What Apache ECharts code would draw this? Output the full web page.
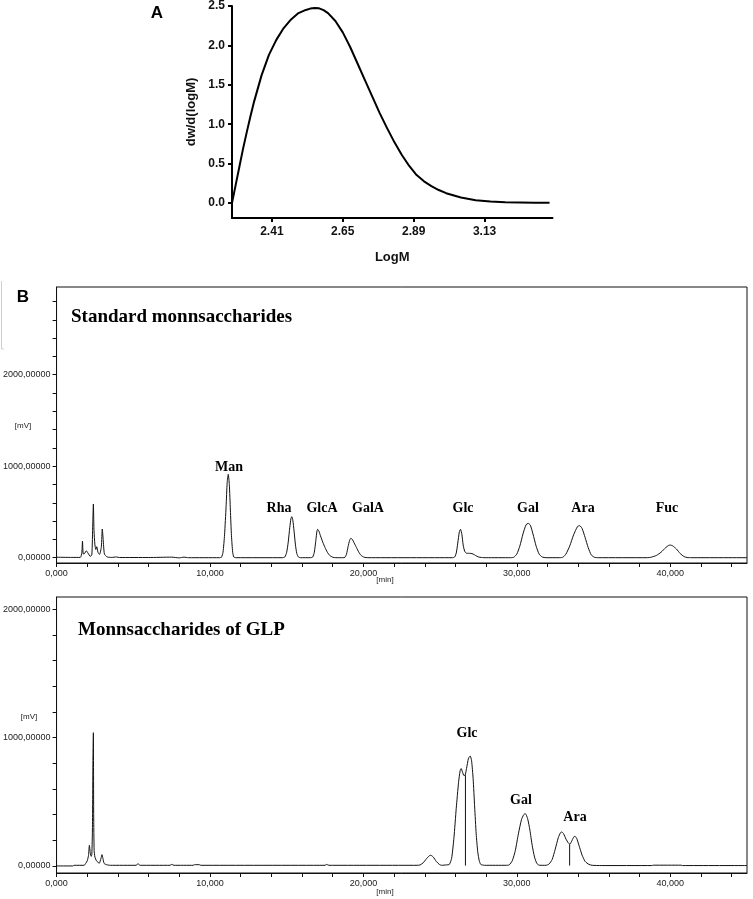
<!DOCTYPE html>
<html>
<head>
<meta charset="utf-8">
<script src="https://cdn.jsdelivr.net/npm/echarts@6/dist/echarts.min.js"></script>
<style>
html,body{margin:0;padding:0;background:#fff;}
#chart{width:753px;height:899px;}
</style>
</head>
<body>
<div id="chart"></div>
<script>
// ---------- Panel A: molecular weight distribution ----------
const mwLogM = [2.275, 2.2875, 2.300, 2.3125, 2.325, 2.3375, 2.350, 2.375, 2.400, 2.425, 2.450, 2.475, 2.500, 2.525, 2.540, 2.555, 2.570, 2.585, 2.600, 2.625, 2.650, 2.675, 2.700, 2.725, 2.750, 2.775, 2.800, 2.825, 2.850, 2.875, 2.900, 2.925, 2.950, 2.975, 3.000, 3.050, 3.100, 3.150, 3.200, 3.250, 3.300, 3.350];
const mwDw   = [0.00, 0.23, 0.46, 0.69, 0.90, 1.10, 1.29, 1.62, 1.88, 2.07, 2.22, 2.33, 2.41, 2.45, 2.467, 2.475, 2.47, 2.448, 2.41, 2.31, 2.165, 1.98, 1.77, 1.56, 1.35, 1.14, 0.95, 0.77, 0.61, 0.47, 0.355, 0.275, 0.215, 0.165, 0.125, 0.07, 0.035, 0.018, 0.010, 0.007, 0.005, 0.005];
const aTicksX = [2.41, 2.65, 2.89, 3.13];
const aTicksY = [0.0, 0.5, 1.0, 1.5, 2.0, 2.5];

// ---------- Panel B: HPLC chromatograms (time [min], signal [mV]) ----------
const stdTime = [0,1.0,1.55,1.65,1.69,1.74,1.82,1.94,2.05,2.2,2.3,2.36,2.40,2.44,2.5,2.56,2.62,2.7,2.8,2.92,2.98,3.04,3.12,3.3,3.6,3.9,4.1,6.0,7.5,8.0,8.3,8.6,10.6,
  10.75,10.85,10.95,11.05,11.12,11.19,11.26,11.33,11.40,11.48,11.55,11.7,
  14.7,14.88,15.0,15.1,15.2,15.28,15.33,15.40,15.48,15.57,15.66,15.76,15.9,
  16.55,16.7,16.8,16.9,16.97,17.02,17.1,17.2,17.35,17.5,17.65,17.8,18.0,18.2,
  18.65,18.8,18.9,19.0,19.1,19.18,19.28,19.4,19.55,19.7,19.85,20.05,20.3,
  25.8,25.95,26.05,26.15,26.25,26.33,26.42,26.5,26.6,26.7,26.85,27.0,27.15,27.3,27.5,27.7,28.0,
  29.6,29.8,30.0,30.2,30.4,30.6,30.74,30.88,31.05,31.25,31.45,31.65,31.9,
  32.8,33.0,33.2,33.45,33.7,33.95,34.09,34.25,34.45,34.65,34.85,35.05,35.3,
  38.5,38.75,39.1,39.4,39.7,39.9,40.0,40.15,40.4,40.65,40.9,41.1,41.4,45.0];
const stdSignal = [5,3,3,60,182,40,45,75,50,15,30,370,587,300,140,90,120,60,35,120,313,200,40,8,3,8,2,2,6,-2,6,0,0,
  5,60,250,560,820,911,800,520,240,60,8,0,
  0,8,60,170,330,430,448,410,290,140,45,8,0,
  0,8,60,190,290,310,290,240,170,110,60,25,5,0,
  0,5,40,120,190,211,200,160,110,60,25,5,0,
  0,8,50,160,280,310,250,140,70,50,48,47,40,25,8,2,0,
  0,5,40,130,260,360,375,355,260,130,40,8,0,
  0,5,40,130,250,340,350,320,220,110,30,5,0,
  0,5,25,60,110,135,138,130,95,45,12,2,0,0];

const glpTime = [0,1.05,1.15,1.8,1.9,2.0,2.08,2.14,2.2,2.26,2.3,2.34,2.37,2.40,2.42,2.45,2.5,2.6,2.7,2.78,2.9,2.96,3.02,3.1,3.25,3.5,5.2,5.3,5.45,7.4,7.5,7.65,8.9,9.0,9.3,9.4,17.5,17.6,17.75,23.5,
  23.7,23.9,24.1,24.3,24.39,24.55,24.75,24.95,25.1,25.4,
  25.6,25.75,25.9,26.05,26.2,26.3,26.37,26.45,26.55,26.63,26.72,26.85,26.96,27.05,27.15,27.25,27.35,27.45,27.55,27.65,27.9,
  29.3,29.5,29.7,29.9,30.1,30.3,30.45,30.55,30.7,30.85,31.0,31.15,31.3,31.45,31.7,
  31.9,32.1,32.3,32.5,32.7,32.85,32.93,33.05,33.2,33.35,33.45,33.6,33.72,33.79,33.9,34.05,34.25,34.45,34.7,34.91,35.5,38.8,38.9,40.7,40.8,45.0];
const glpSignal = [0,0,5,5,20,40,80,161,100,75,90,300,811,1039,400,120,70,40,30,20,60,88,60,20,10,5,5,18,5,5,12,5,5,10,10,5,5,12,5,5,
  8,25,55,80,83,70,35,12,5,8,
  12,60,220,450,650,740,759,735,705,707,760,840,857,820,680,460,250,110,40,12,5,
  5,8,40,120,250,360,400,408,370,280,160,70,20,6,5,
  5,15,50,130,220,260,265,250,210,180,169,200,228,231,215,160,85,35,12,5,3,3,6,6,3,3];

// integration drop lines in the GLP trace
const glpDropTime = [26.65, 33.44];
const glpDropTop  = [707, 169];

const bTicksX = [0,2,4,6,8,10,12,14,16,18,20,22,24,26,28,30,32,34,36,38,40,42,44];
const bLabelsX = [0,10,20,30,40];
const b1TicksY = [0,200,400,600,800,1000,1200,1400,1600,1800,2000,2200,2400,2600,2800];
const b2TicksY = [0,200,400,600,800,1000,1200,1400,1600,1800,2000];
const bLabelsY = [0,1000,2000];

const stdPeakNames = ['Man','Rha','GlcA','GalA','Glc','Gal','Ara','Fuc'];
const glpPeakNames = ['Glc','Gal','Ara'];

// ---------- build ----------
const zip = (a,b) => a.map((v,i)=>[v,b[i]]);
const chart = echarts.init(document.getElementById('chart'), null, {renderer:'canvas'});

const fmtX = v => v.toFixed(3).replace('.',',');
const fmtY = v => v.toFixed(5).replace('.',',');
const smallFont = {fontSize:9, color:'#222', fontFamily:'Liberation Sans'};

function bXAxis(gi){
  return {gridIndex:gi, type:'value', min:0, max:45,
    axisLine:{onZero:false, lineStyle:{color:'#111', width:1}},
    axisTick:{customValues:bTicksX, length:4, lineStyle:{color:'#111'}},
    axisLabel:Object.assign({customValues:bLabelsX, formatter:fmtX, margin:6}, smallFont),
    splitLine:{show:false}};
}
function bYAxis(gi, min, max, ticks){
  return {gridIndex:gi, type:'value', min:min, max:max,
    axisLine:{onZero:false, lineStyle:{color:'#111', width:1}},
    axisTick:{customValues:ticks, length:4, lineStyle:{color:'#111'}},
    axisLabel:Object.assign({customValues:bLabelsY, formatter:fmtY, margin:6}, smallFont),
    splitLine:{show:false}};
}

const serif = '"Liberation Serif","Times New Roman",serif';
const stdLabelPos = [[229,467],[279,508],[322,508],[368,508],[463,508],[528,508],[583,508],[667,508]];
const glpLabelPos = [[467,733],[521,800],[575,817]];

const graphics = [
  {type:'text', style:{text:'A', x:157, y:13, align:'center', verticalAlign:'middle', font:'bold 17px "Liberation Sans",Arial', fill:'#000'}},
  {type:'text', style:{text:'B', x:23, y:297, align:'center', verticalAlign:'middle', font:'bold 17px "Liberation Sans",Arial', fill:'#000'}},
  {type:'text', style:{text:'Standard monnsaccharides', x:71, y:317, align:'left', verticalAlign:'middle', font:'bold 19px '+serif, fill:'#000'}},
  {type:'text', style:{text:'Monnsaccharides of GLP', x:78, y:630, align:'left', verticalAlign:'middle', font:'bold 19px '+serif, fill:'#000'}},
  {type:'text', style:{text:'[mV]', x:23, y:426, align:'center', verticalAlign:'middle', font:'8px "Liberation Sans"', fill:'#222'}},
  {type:'text', style:{text:'[mV]', x:29, y:717, align:'center', verticalAlign:'middle', font:'8px "Liberation Sans"', fill:'#222'}},
  {type:'text', style:{text:'[min]', x:385, y:580, align:'center', verticalAlign:'middle', font:'8px "Liberation Sans"', fill:'#222'}},
  {type:'text', style:{text:'[min]', x:385, y:892, align:'center', verticalAlign:'middle', font:'8px "Liberation Sans"', fill:'#222'}},
  {type:'polyline', shape:{points:[[1.5,281],[1.5,349],[4,349]]}, style:{stroke:'#cfcfcf', lineWidth:1, fill:null}}
];
stdPeakNames.forEach((n,i)=>graphics.push({type:'text', style:{text:n, x:stdLabelPos[i][0], y:stdLabelPos[i][1], align:'center', verticalAlign:'middle', font:'bold 14px '+serif, fill:'#000'}}));
glpPeakNames.forEach((n,i)=>graphics.push({type:'text', style:{text:n, x:glpLabelPos[i][0], y:glpLabelPos[i][1], align:'center', verticalAlign:'middle', font:'bold 14px '+serif, fill:'#000'}}));

const series = [
  {type:'line', xAxisIndex:0, yAxisIndex:0, data:zip(mwLogM, mwDw), smooth:false, showSymbol:false, lineStyle:{color:'#000', width:2, join:'round'}},
  {type:'line', xAxisIndex:1, yAxisIndex:1, data:zip(stdTime, stdSignal), smooth:0.2, showSymbol:false, lineStyle:{color:'#111', width:1}},
  {type:'line', xAxisIndex:2, yAxisIndex:2, data:zip(glpTime, glpSignal), smooth:0.2, showSymbol:false, lineStyle:{color:'#111', width:1}}
];
glpDropTime.forEach((t,i)=>series.push({type:'line', xAxisIndex:2, yAxisIndex:2, data:[[t, glpDropTop[i]],[t, 3]], showSymbol:false, lineStyle:{color:'#111', width:1}}));

const option = {
  animation:false,
  backgroundColor:'#fff',
  grid:[
    {left:232, top:5.5, width:320.5, height:212.5, show:false},
    {left:53, top:287, width:694, height:276, show:true, borderColor:'#111', borderWidth:1, backgroundColor:'transparent'},
    {left:53, top:597, width:694, height:276, show:true, borderColor:'#111', borderWidth:1, backgroundColor:'transparent'}
  ],
  xAxis:[
    {gridIndex:0, type:'value', min:2.275, max:3.36,
      axisLine:{onZero:false, lineStyle:{color:'#000', width:2}},
      axisTick:{customValues:aTicksX, length:4, lineStyle:{color:'#000', width:2}},
      axisLabel:{customValues:aTicksX, formatter:v=>v.toFixed(2), margin:8, fontSize:12, fontWeight:'bold', color:'#111', fontFamily:'Liberation Sans'},
      splitLine:{show:false},
      name:'LogM', nameLocation:'middle', nameGap:33,
      nameTextStyle:{fontSize:13, fontWeight:'bold', color:'#111', fontFamily:'Liberation Sans'}},
    bXAxis(1), bXAxis(2)
  ],
  yAxis:[
    {gridIndex:0, type:'value', min:-0.19, max:2.5,
      axisLine:{onZero:false, lineStyle:{color:'#000', width:2}},
      axisTick:{customValues:aTicksY, length:4, lineStyle:{color:'#000', width:2}},
      axisLabel:{customValues:aTicksY, formatter:v=>v.toFixed(1), margin:7, fontSize:12, fontWeight:'bold', color:'#111', fontFamily:'Liberation Sans'},
      splitLine:{show:false},
      name:'dw/d(logM)', nameLocation:'middle', nameGap:34, nameRotate:90,
      nameTextStyle:{fontSize:13, fontWeight:'bold', color:'#111', fontFamily:'Liberation Sans'}},
    bYAxis(1, -58, 2958, b1TicksY),
    bYAxis(2, -55, 2097, b2TicksY)
  ],
  graphic: graphics,
  series: series
};
chart.setOption(option);
</script>
</body>
</html>
